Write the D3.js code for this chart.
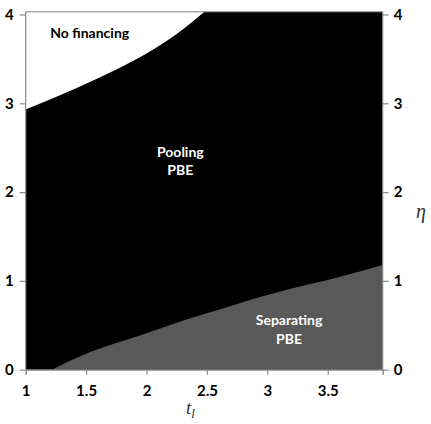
<!DOCTYPE html>
<html><head><meta charset="utf-8">
<script src="https://cdn.jsdelivr.net/npm/d3@7"></script>
<style>body{margin:0;background:#fff}svg{display:block}</style>
</head><body>
<script>
// Data: boundary of the "No financing" region (eta above which no financing)
const upperT   = [1, 1.25, 1.5, 1.75, 2, 2.25, 2.48];
const upperEta = [2.93, 3.07, 3.22, 3.38, 3.56, 3.78, 4.03];
// Data: boundary of the "Separating PBE" region (eta below which separating)
const lowerT   = [1.216, 1.5, 1.75, 2, 2.25, 2.5, 2.75, 3, 3.25, 3.5, 3.75, 3.955];
const lowerEta = [0, 0.18, 0.30, 0.41, 0.53, 0.635, 0.74, 0.84, 0.93, 1.01, 1.10, 1.18];
const xTicks = [1, 1.5, 2, 2.5, 3, 3.5];
const xTickLabels = ["1", "1.5", "2", "2.5", "3", "3.5"];
const yTicks = [0, 1, 2, 3, 4];
const regionLabels = [
  {lines: ["No financing"], t: 1.53, eta: 3.74, color: "#000"},
  {lines: ["Pooling", "PBE"], t: 2.28, eta: 2.40, color: "#fff"},
  {lines: ["Separating", "PBE"], t: 3.18, eta: 0.50, color: "#fff"}
];
const xMin = 1, xMax = 3.955, yMin = 0, yMax = 4.03;

const W = 431, H = 424;
const svg = d3.select("body").append("svg").attr("width", W).attr("height", H);
const x = d3.scaleLinear().domain([xMin, xMax]).range([25.7, 382.7]);
const y = d3.scaleLinear().domain([0, 4]).range([369.7, 14.5]);
const font = "Lato, 'Open Sans', sans-serif";

const upperRows = upperT.map((t, i) => ({t, v: upperEta[i]}));
const lowerRows = lowerT.map((t, i) => ({t, v: lowerEta[i]}));

// Pooling PBE region: the whole parameter space, overlaid by the other regions
svg.append("path").datum([{t: xMin}, {t: xMax}])
  .attr("d", d3.area().x(d => x(d.t)).y0(y(yMin)).y1(y(yMax)))
  .attr("fill", "#000");
// No financing region
svg.append("path").datum(upperRows)
  .attr("d", d3.area().x(d => x(d.t)).y0(y(yMax)).y1(d => y(d.v)).curve(d3.curveMonotoneX))
  .attr("fill", "#fff");
// Separating PBE region
svg.append("path").datum(lowerRows)
  .attr("d", d3.area().x(d => x(d.t)).y0(y(yMin)).y1(d => y(d.v)).curve(d3.curveMonotoneX))
  .attr("fill", "#595959");

// Frame lines
const axisColor = "#8c8c8c";
svg.append("line").attr("x1", x(xMin)).attr("x2", x(xMax)).attr("y1", y(yMax)).attr("y2", y(yMax))
  .attr("stroke", axisColor).attr("stroke-width", 1);

function styleAxis(g) {
  g.selectAll("path.domain").attr("stroke", axisColor).attr("stroke-width", 1.2);
  g.selectAll(".tick line").attr("stroke", axisColor).attr("stroke-width", 1.2);
  g.selectAll(".tick text").attr("fill", "#000").attr("font-family", font)
    .attr("font-weight", "bold").attr("font-size", 15);
}

const gx = svg.append("g").attr("transform", `translate(0,${y(yMin)})`)
  .call(d3.axisBottom(x).tickValues(xTicks.concat([xMax])).tickFormat((d, i) => i < xTickLabels.length ? xTickLabels[i] : "")
    .tickSizeOuter(0).tickSize(5).tickPadding(11));
styleAxis(gx);

const gl = svg.append("g").attr("transform", `translate(${x(xMin)},0)`)
  .call(d3.axisLeft(y).tickValues(yTicks).tickFormat(d3.format("d")).tickSizeOuter(0).tickSize(6).tickPadding(6));
gl.select("path.domain").attr("d", `M0,${y(yMin)}V${y(yMax)}`);
styleAxis(gl);

const gr = svg.append("g").attr("transform", `translate(${x(xMax)},0)`)
  .call(d3.axisRight(y).tickValues(yTicks).tickFormat(d3.format("d")).tickSizeOuter(0).tickSize(6).tickPadding(5));
gr.select("path.domain").attr("d", `M0,${y(yMin)}V${y(yMax)}`);
styleAxis(gr);

// Region labels
regionLabels.forEach(l => {
  const t = svg.append("text").attr("x", x(l.t)).attr("y", y(l.eta))
    .attr("text-anchor", "middle").attr("font-family", font).attr("font-weight", "bold")
    .attr("font-size", 14).attr("fill", l.color);
  l.lines.forEach((s, i) => t.append("tspan").attr("x", x(l.t)).attr("dy", i ? 18.5 : 0).text(s));
});

// Axis titles
const xt = svg.append("text").attr("x", 186).attr("y", 414)
  .attr("font-family", "'Liberation Serif', serif").attr("font-style", "italic").attr("font-size", 19).attr("fill", "#333");
xt.append("tspan").text("t");
xt.append("tspan").attr("font-size", 13).attr("dy", 4).text("l");

svg.append("text").attr("x", 421).attr("y", 218).attr("text-anchor", "middle")
  .attr("font-family", "'Liberation Serif', serif").attr("font-style", "italic").attr("font-size", 20)
  .attr("fill", "#333").text("η");
</script>
</body></html>
